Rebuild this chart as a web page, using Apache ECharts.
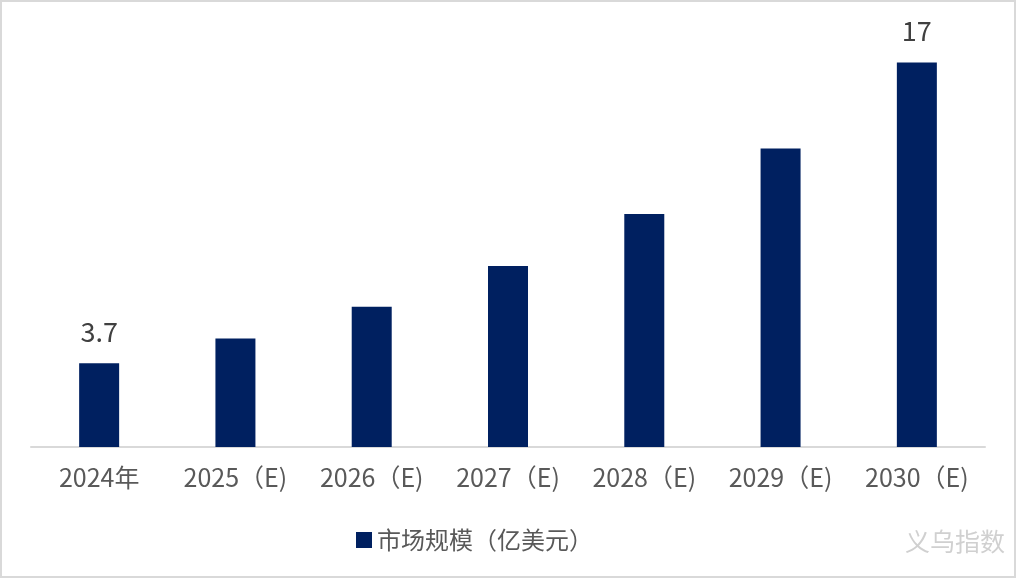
<!DOCTYPE html>
<html><head><meta charset="utf-8">
<script src="https://cdn.jsdelivr.net/npm/echarts@6/dist/echarts.min.js"></script>
<style>
html,body{margin:0;padding:0;background:#fff;}
#frame{position:absolute;left:0;top:0;width:1012px;height:574px;border:2px solid #d9d9d9;}
#c{position:absolute;left:0;top:0;width:1016px;height:578px;}
</style></head>
<body>
<div id="frame"></div>
<div id="c"></div>
<script>
const categories = ['2024年','2025（E)','2026（E)','2027（E)','2028（E)','2029（E)','2030（E)'];
const values = [3.7, 4.8, 6.2, 8.0, 10.3, 13.2, 17];
const labelled = ['3.7','', '', '', '', '', '17'];
const seriesName = '市场规模（亿美元）';

const chart = echarts.init(document.getElementById('c'));
const font = '"Microsoft YaHei","Noto Sans CJK SC","Noto Sans",sans-serif';
chart.setOption({
  animation:false,
  textStyle:{fontFamily:font},
  grid:{left:31,right:31,top:40,bottom:131},
  legend:{
    left:351, top:523, itemWidth:16, itemHeight:16, itemGap:8,
    icon:'rect',
    textStyle:{fontSize:24,color:'#595959',fontFamily:font},
    data:[seriesName]
  },
  xAxis:{
    type:'category', data:categories,
    axisLine:{lineStyle:{color:'#d9d9d9',width:2}},
    axisTick:{show:false},
    axisLabel:{fontSize:25,color:'#595959',margin:18,fontFamily:font}
  },
  yAxis:{type:'value',min:0,max:18,show:false,splitLine:{show:false}},
  series:[{
    name:seriesName, type:'bar', barWidth:40,
    itemStyle:{color:'#002060'},
    data:values,
    label:{show:true,position:'top',distance:18,fontSize:27,color:'#404040',fontFamily:font,
      formatter:p=>labelled[p.dataIndex]}
  }],
  graphic:[{type:'text',left:905,top:529,style:{text:'义乌指数',fontSize:25,fill:'#d0d0d0',fontFamily:font}}]
});
</script>
</body></html>
